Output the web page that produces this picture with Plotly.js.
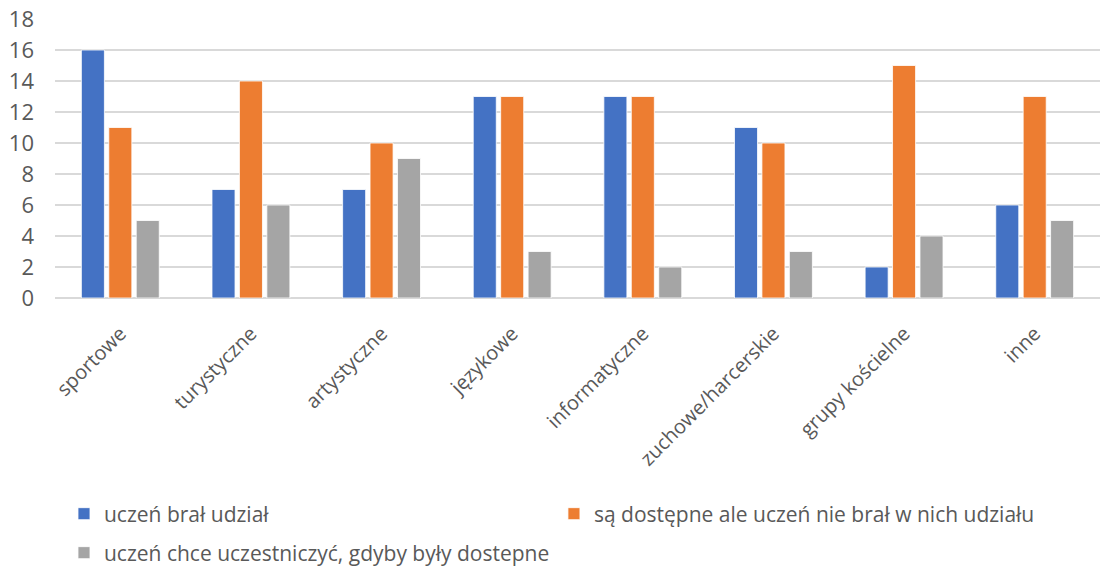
<!DOCTYPE html>
<html>
<head>
<meta charset="utf-8">
<script src="https://cdn.plot.ly/plotly-3.0.1.min.js"></script>
<style>html,body{margin:0;padding:0;background:#fff;}#chart{width:1109px;height:574px;}</style>
</head>
<body>
<div id="chart"></div>
<script>
const categories = ["sportowe","turystyczne","artystyczne","językowe","informatyczne","zuchowe/harcerskie","grupy kościelne","inne"];
const seriesNames = ["uczeń brał udział","są dostępne ale uczeń nie brał w nich udziału","uczeń chce uczestniczyć, gdyby były dostepne"];
const tookPart = [16,7,7,13,13,11,2,6];
const availableNotTaken = [11,14,10,13,13,10,15,13];
const wantsToJoin = [5,6,9,3,2,3,4,5];
const yTicks = [0,2,4,6,8,10,12,14,16,18];

const colors = ["#4472C4","#ED7D31","#A5A5A5"];
const legendFont = {family:"'Open Sans', sans-serif", size:21, color:"#595959"};
const legendIds = ['legend','legend2','legend3'];

const traces = [tookPart, availableNotTaken, wantsToJoin].map((vals,i)=>({
  type:'bar', x:categories, y:vals, name:seriesNames[i],
  marker:{color:colors[i], line:{color:'#ffffff', width:0.8}},
  legend: legendIds[i],
  hoverinfo:'none'
}));

const legBase = {orientation:'h', xref:'container', yref:'container', xanchor:'left', yanchor:'middle', font:legendFont, bgcolor:'rgba(0,0,0,0)'};

const layout = {
  width:1109, height:574,
  margin:{l:55, r:9, t:19, b:276},
  paper_bgcolor:'#fff', plot_bgcolor:'#fff',
  barmode:'group', bargap:0.37, bargroupgap:0.16,
  font:{family:"'Open Sans', sans-serif", color:'#595959'},
  xaxis:{type:'category', tickangle:-45, tickfont:{size:20, color:'#595959', family:"'Open Sans', sans-serif"},
         showgrid:false, showline:false, ticks:'', zeroline:false, ticklabelstandoff:19, automargin:false},
  yaxis:{range:[0,18], tickvals:yTicks, tickfont:{size:22, color:'#595959', family:"'Open Sans', sans-serif"},
         showgrid:true, gridcolor:'#D9D9D9', gridwidth:1.3, zeroline:true, zerolinecolor:'#D9D9D9', zerolinewidth:1.3,
         ticks:'', showline:false, fixedrange:true, ticklen:0, ticklabelstandoff:20, automargin:false},
  showlegend:true,
  legend: Object.assign({}, legBase, {x:0.0577, y:0.1045}),
  legend2: Object.assign({}, legBase, {x:0.4995, y:0.1045}),
  legend3: Object.assign({}, legBase, {x:0.0577, y:0.0366})
};

Plotly.newPlot('chart', traces, layout, {displayModeBar:false, staticPlot:true});
</script>
</body>
</html>
